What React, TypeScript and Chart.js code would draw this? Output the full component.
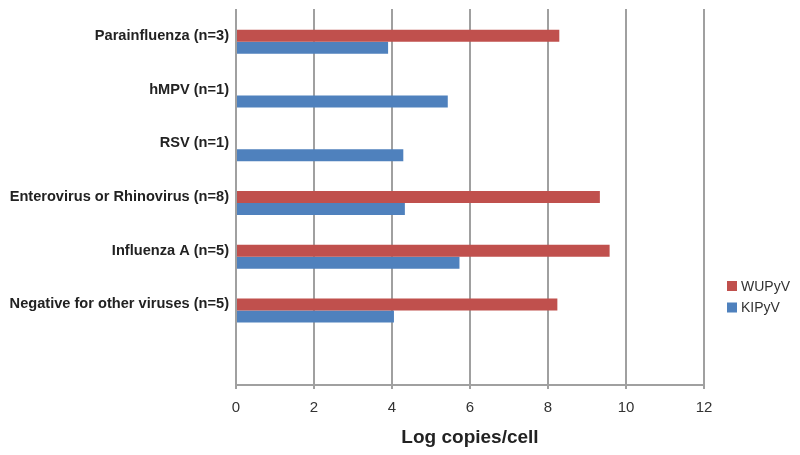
import React, { useEffect, useRef } from "react";
import { Chart, registerables } from "chart.js";

Chart.register(...registerables);

const categories = [
  "Parainfluenza (n=3)",
  "hMPV (n=1)",
  "RSV (n=1)",
  "Enterovirus or Rhinovirus (n=8)",
  "Influenza A (n=5)",
  "Negative for other viruses (n=5)",
  "",
];
const wupyv = [8.29, null, null, 9.33, 9.58, 8.24, null];
const kipyv = [3.9, 5.43, 4.29, 4.33, 5.73, 4.05, null];
const spacer = [null, null, null, null, null, null, null];
const xTicks = [0, 2, 4, 6, 8, 10, 12];

const FONT = "'Liberation Sans', Arial, Helvetica, sans-serif";

const legendPlugin = {
  id: "customLegend",
  afterDraw(chart: any) {
    const ctx = chart.ctx;
    const items = chart.data.datasets.filter((d: any) => d.label);
    ctx.save();
    ctx.font = `14px ${FONT}`;
    ctx.textBaseline = "middle";
    items.forEach((d: any, i: number) => {
      const cy = 286 + i * 21.5;
      ctx.fillStyle = d.backgroundColor;
      ctx.fillRect(727, cy - 5, 10, 10);
      ctx.fillStyle = "#333333";
      ctx.fillText(d.label, 741, cy + 1);
    });
    ctx.restore();
  },
};

export default function App() {
  const ref = useRef<HTMLCanvasElement | null>(null);
  useEffect(() => {
    if (!ref.current) return;
    const chart = new Chart(ref.current, {
      type: "bar",
      data: {
        labels: categories,
        datasets: [
          { label: "", data: spacer as any, backgroundColor: "rgba(0,0,0,0)" },
          { label: "WUPyV", data: wupyv as any, backgroundColor: "#C0504D" },
          { label: "KIPyV", data: kipyv as any, backgroundColor: "#4F81BD" },
        ],
      },
      options: {
        indexAxis: "y",
        animation: false,
        responsive: true,
        maintainAspectRatio: false,
        layout: { padding: { top: 9, right: 96, left: 0, bottom: 0 } },
        datasets: {
          bar: { categoryPercentage: 0.67, barPercentage: 1.0 },
        } as any,
        plugins: {
          legend: { display: false },
          tooltip: { enabled: false },
        },
        scales: {
          x: {
            min: 0,
            max: 12,
            afterBuildTicks: (scale: any) => {
              scale.ticks = xTicks.map((v) => ({ value: v }));
            },
            afterFit: (scale: any) => {
              scale.height = 70;
            },
            grid: {
              color: "#A0A0A0",
              lineWidth: 2,
              tickLength: 4,
              drawTicks: true,
            },
            border: { display: true, color: "#A0A0A0", width: 2 },
            ticks: {
              color: "#333333",
              font: { family: FONT, size: 15 },
              padding: 10,
            },
            title: {
              display: true,
              text: "Log copies/cell",
              color: "#222222",
              font: { family: FONT, size: 19, weight: "bold" },
              padding: { top: 4, bottom: 6 },
            },
          },
          y: {
            afterFit: (scale: any) => {
              scale.width = 236;
              scale.paddingTop = 0;
              scale.paddingBottom = 0;
            },
            grid: { display: false, drawTicks: false },
            border: { display: false },
            ticks: {
              color: "#222222",
              font: { family: FONT, size: 14.6, weight: "bold" },
              padding: 7,
              autoSkip: false,
            },
          },
        },
      },
      plugins: [legendPlugin],
    });
    return () => chart.destroy();
  }, []);
  return (
    <div style={{ position: "fixed", left: 0, top: 0, width: 800, height: 455, background: "#fff" }}>
      <canvas ref={ref} />
    </div>
  );
}
